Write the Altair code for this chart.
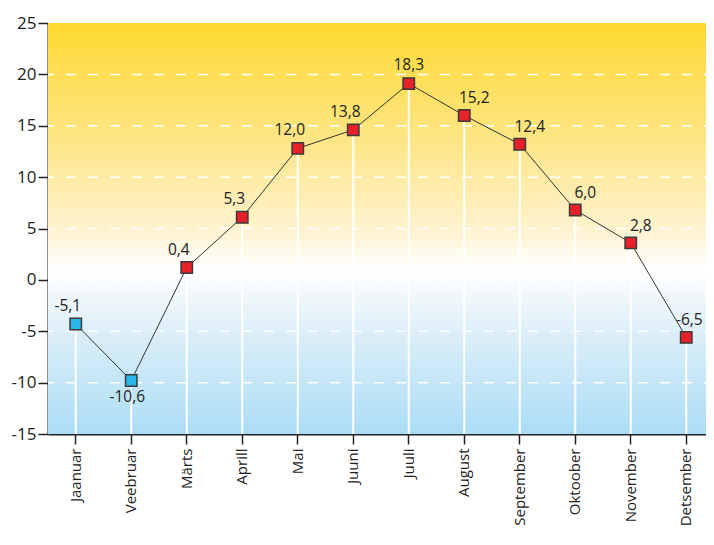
import altair as alt
import pandas as pd

months = ["Jaanuar", "Veebruar", "Märts", "Aprill", "Mai", "Juuni", "Juuli",
          "August", "September", "Oktoober", "November", "Detsember"]
values = [-4.3, -9.8, 1.2, 6.1, 12.8, 14.6, 19.1, 16.0, 13.2, 6.8, 3.6, -5.6]
labels = ["-5,1", "-10,6", "0,4", "5,3", "12,0", "13,8", "18,3", "15,2",
          "12,4", "6,0", "2,8", "-6,5"]
kind = ["külm", "külm"] + ["soe"] * 10
y_ticks = [-15, -10, -5, 0, 5, 10, 15, 20, 25]
grid_vals = [-10, -5, 0, 5, 10, 15, 20]

df = pd.DataFrame({"month": months, "value": values, "label": labels, "kind": kind})
df["base"] = -15
gdf = pd.DataFrame({"value": grid_vals})

FONT = "Open Sans"
INK = "#222"
yscale = alt.Scale(domain=[-15, 25], nice=False, zero=False)
yaxis = alt.Axis(values=y_ticks, labelExpr="datum.value + ''", labelFontSize=17,
                 labelFont=FONT, labelColor=INK, tickSize=10, labelPadding=2,
                 domainColor=INK, tickColor=INK, domainWidth=2, tickWidth=1.5,
                 grid=False)

x = alt.X("month:N", sort=months, title=None,
          scale=alt.Scale(paddingInner=0, paddingOuter=0),
          axis=alt.Axis(labelAngle=270, labelAlign="right", labelBaseline="middle",
                        labelFontSize=15, labelPadding=4, tickSize=10, grid=False,
                        domainColor=INK, tickColor=INK, labelColor=INK, tickWidth=1.5,
                        labelFont=FONT, domainWidth=2))
y = alt.Y("value:Q", title=None, scale=yscale, axis=yaxis)

bg = alt.Chart(pd.DataFrame({"a": [0]})).mark_rect(
    fill=alt.Gradient(gradient="linear", x1=0, y1=0, x2=0, y2=1, stops=[
        alt.GradientStop(offset=0, color="#FED930"),
        alt.GradientStop(offset=0.3, color="#FDE68A"),
        alt.GradientStop(offset=0.5, color="#FEF3CE"),
        alt.GradientStop(offset=0.6, color="#FFFFFF"),
        alt.GradientStop(offset=0.75, color="#DDEFF8"),
        alt.GradientStop(offset=1, color="#ABDDF6"),
    ])
).encode(x=alt.value(0), x2=alt.value("width"), y=alt.value(0), y2=alt.value("height"))

grid_h = alt.Chart(gdf).mark_rule(color="white", strokeWidth=1.5, strokeDash=[10, 12]).encode(
    y=y
)

base = alt.Chart(df)
rules = base.mark_rule(color="white", strokeWidth=2).encode(x=x, y=y, y2="base:Q")
line = base.mark_line(color="#333", strokeWidth=1).encode(x=x, y=y)
pts = base.mark_point(shape="square", filled=True, size=130, stroke="#3a3a3a",
                      strokeWidth=1.5, opacity=1).encode(
    x=x, y=y,
    fill=alt.Fill("kind:N", scale=alt.Scale(domain=["külm", "soe"],
                                            range=["#29B8EA", "#E8202A"]), legend=None))

txt_kw = dict(font=FONT, fontSize=15.5, color=INK)


def lab(filt, dx, dy):
    return base.mark_text(dx=dx, dy=dy, **txt_kw).encode(
        x=x, y=y, text="label:N").transform_filter(filt)


left_grp = "indexof(['Jaanuar','Märts','Aprill','Mai','Juuni'], datum.month) >= 0"
right_grp = "indexof(['August','September','Oktoober','November'], datum.month) >= 0"
t_left = lab(left_grp, -8, -18)
t_mid = lab("datum.month == 'Juuli'", 0, -19)
t_right = lab(right_grp, 10, -17)
t_last = lab("datum.month == 'Detsember'", 3, -17)
t_below = lab("datum.month == 'Veebruar'", -4, 16)

chart = alt.layer(bg, grid_h, rules, line, pts, t_left, t_mid, t_right, t_last, t_below).properties(
    width=666, height=411,
    autosize=alt.AutoSizeParams(type="none"),
    padding={"left": 40, "top": 15, "right": -8, "bottom": 95}
).configure_view(stroke=None)

chart.save("out.html", embed_options={"renderer": "svg", "actions": False})
